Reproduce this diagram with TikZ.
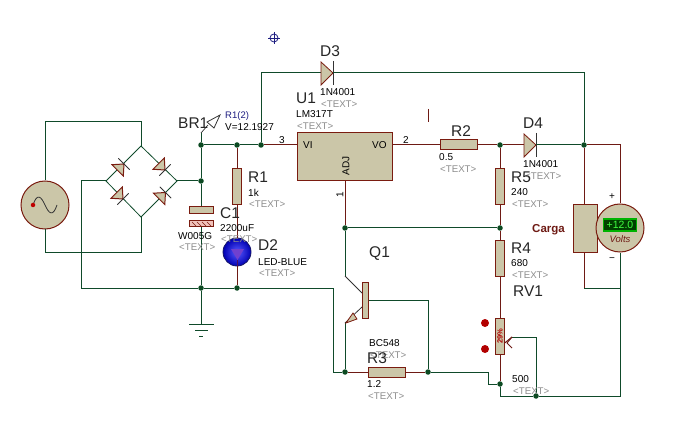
\documentclass[tikz,border=0pt]{standalone}
\usepackage{fontspec}
\setmainfont{Liberation Sans}
\definecolor{wirec}{HTML}{0F4A2A}
\definecolor{pinc}{HTML}{6E1A14}
\definecolor{bodyc}{HTML}{CBC6A8}
\definecolor{edgec}{HTML}{7A1C10}
\definecolor{dotc}{HTML}{0C4A22}
\definecolor{grayt}{HTML}{8C8C8C}
\definecolor{navyc}{HTML}{1C1C80}
\newcommand{\fpx}[1]{\fontsize{#1pt}{#1pt}\selectfont}
\tikzset{
  wire/.style={draw=wirec,line width=1pt},
  pin/.style={draw=pinc,line width=1pt},
  body/.style={draw=edgec,fill=bodyc,line width=1pt},
  res/.style={body,rectangle,inner sep=0pt,minimum width=37pt,minimum height=10pt},
  vres/.style={body,rectangle,inner sep=0pt,minimum width=9.5pt,minimum height=36pt},
  jdot/.style={circle,fill=dotc,inner sep=0pt,minimum size=5.5pt},
  big/.style={anchor=west,inner sep=0pt,font=\fpx{15.5},text=black!85},
  small/.style={anchor=west,inner sep=0pt,font=\fpx{10},text=black},
  ttxt/.style={anchor=west,inner sep=0pt,font=\fpx{9.7},text=grayt},
  brd/.pic={
    \draw[body] (0,0) -- (-9,-8) -- (-9,8) -- cycle;
    \draw[draw=black!80,line width=.8pt] (0,-8) -- (0,8);
  }
}
\begin{document}
\begin{tikzpicture}[x=1pt,y=-1pt]
\useasboundingbox (0,0) rectangle (698,430);
% junctions
\node[jdot] (j1) at (201,145) {};
\node[jdot] (j2) at (237,145) {};
\node[jdot] (j3) at (261,145) {};
\node[jdot] (j4) at (201,181) {};
\node[jdot] (j5) at (201,288) {};
\node[jdot] (j6) at (237,288) {};
\node[jdot] (j7) at (500,145) {};
\node[jdot] (j8) at (584,145) {};
\node[jdot] (j9) at (500,228) {};
\node[jdot] (j10) at (345,228) {};
\node[jdot] (j11) at (345,372) {};
\node[jdot] (j12) at (428,372) {};
\node[jdot] (j13) at (500,384) {};
\node[jdot] (j14) at (536,396) {};
% free coordinates
\coordinate (bt) at (141,146);
\coordinate (bl) at (106,181);
\coordinate (br) at (177,181);
\coordinate (bb) at (141,217);
\coordinate (d3a) at (321,73);
\coordinate (d3k) at (333,73);
\coordinate (d4a) at (524,145);
\coordinate (d4k) at (536,145);
\coordinate (qc) at (345,276);
\coordinate (qe) at (345,323);
\coordinate (qci) at (362,293);
\coordinate (qei) at (362,307);
\coordinate (gnd) at (201,324);
\coordinate (probe) at (201,133);
\coordinate (wip) at (512,337);
% components
\node[circle,body,inner sep=0pt,minimum size=48pt] (ac) at (45,205) {};
\node[vres] (r1) at (237,187) {};
\node[res] (r2) at (458.5,145) {};
\node[res] (r3) at (386.5,372) {};
\node[vres] (r5) at (500,187) {};
\node[vres] (r4) at (500,258.5) {};
\node[vres] (rv) at (500,336) {};
\node[rectangle,body,inner sep=0pt,minimum width=95pt,minimum height=48pt] (u1) at (344.5,157) {};
\node[rectangle,body,inner sep=0pt,minimum width=24pt,minimum height=47pt] (load) at (585,228.5) {};
\node[circle,body,inner sep=0pt,minimum size=48pt] (vm) at (620,228) {};
\node[rectangle,body,inner sep=0pt,minimum width=24pt,minimum height=7pt] (c1a) at (201,210.5) {};
\node[rectangle,draw=edgec,fill=bodyc!60!red!45!white,line width=1pt,inner sep=0pt,minimum width=24pt,minimum height=6pt] (c1b) at (201,224) {};
\node[rectangle,body,inner sep=0pt,minimum width=6.5pt,minimum height=36pt] (qb) at (365.5,300) {};
\node[circle,draw=navyc!80!black,line width=.8pt,inner sep=0pt,minimum size=28pt,shade,inner color=blue!65!white,outer color=blue!70!black] (led) at (237,252) {};
% AC wires
\draw[wire] (ac.north) -- (45,122) -| (bt);
\draw[wire] (ac.south) -- (45,252) -| (bb);
\draw[wire] (bl) -- (81,181) -- (81,288) -- (j5);
\draw[wire] (j5) -- (j6) -- (333,288) -- (333,372) -- (j11);
% bridge
\draw[wirec,line width=.8pt] (bt) -- (bl) -- (bb) -- (br) -- (bt);
\draw[wire] (br) -- (j4);
\pic[rotate=45] at (124,164) {brd};
\pic[rotate=-45] at (165,170) {brd};
\pic[rotate=-45] at (123,199) {brd};
\pic[rotate=45] at (165.5,192.5) {brd};
% left rail
\draw[wire] (j1) -- (j4) -- (c1a);
\draw[wire] (c1b) -- (j5) -- (gnd);
\draw[wire] (j1) -- (j2) -- (j3);
\draw[pin] (j3) -- (u1.west |- j3);
\draw[pin] (j2) -- (r1);
\draw[pin] (r1) -- (led);
\draw[pin] (led) -- (j6);
% ground
\draw[wirec,line width=1pt] (189,324) -- (214,324) (195,330) -- (208,330) (199,336) -- (203,336);
% C1 hatch
\foreach \hx in {192,197,202,207} \draw[edgec,line width=.6pt] (\hx,222) -- (\hx+4,226);
% LED triangle
\draw[fill=violet!50!blue!75!white,draw=none] (231,249) -- (244,249) -- (237.5,260) -- cycle;
\draw[pinc!70!blue,line width=.8pt] (237,260) -- (237,266);
% D3
\draw[wire] (j3) -- (261,73) -- (d3a);
\draw[body,line width=.8pt] (d3a) -- (321,62) -- (d3k) -- (321,85) -- cycle;
\draw[draw=black!80,line width=1pt] (333,61) -- (333,85);
\draw[wire] (d3k) -- (584,73) -- (j8);
% output
\draw[pin] (u1.east |- j7) -- (r2);
\draw[pin] (r2) -- (j7);
\draw[pin] (j7) -- (d4a);
\draw[body,line width=.8pt] (d4a) -- (524,134) -- (d4k) -- (524,157) -- cycle;
\draw[draw=black!80,line width=1pt] (536,133) -- (536,157);
\draw[wire] (d4k) -- (j8);
\draw[pin] (j8) -- (620,145) -- (vm.north);
\draw[pin] (j8) -- (load.north -| j8);
\draw[pin] (load.south -| j8) -- (584,288);
\draw[wire] (584,288) -- (620,288);
\draw[wire] (vm.south) -- (620,396) -- (j14);
% divider
\draw[pin] (j7) -- (r5);
\draw[pin] (r5) -- (j9);
\draw[pin] (j9) -- (r4);
\draw[pin] (r4) -- (rv);
\draw[pin] (rv) -- (j13);
\draw[wire] (j13) -- (500,396) -- (j14);
\draw[wire] (j12) -- (488,372) -- (488,384) -- (j13);
\draw[wire] (j10) -- (j9);
% wiper
\draw[wire] (j14) -- (536,337) -- (wip);
\draw[pin] (wip) -- (507,343) -- (512,348);
\draw[pin] (504.7,343) -- (wip);
% transistor
\draw[pin] (u1.south -| j10) -- (j10);
\draw[wire] (j10) -- (qc);
\draw[draw=black!80,line width=.8pt] (qc) -- (qci);
\draw[draw=black!80,line width=.8pt] (qei) -- (qe);
\draw[wire] (qe) -- (j11);
\draw[body,line width=.8pt] (346,323) -- (353,313) -- (357,319) -- cycle;
\draw[wire] (qb.east) -- (428,300) -- (j12);
\draw[pin] (j11) -- (r3);
\draw[pin] (r3) -- (j12);
% probe
\draw[wire] (j1) -- (probe);
\draw[draw=black!80,line width=.7pt] (probe) -- (208,125);
\draw[draw=black!80,line width=.8pt,fill=white] (207,122) -- (220,115) -- (214,128) -- cycle;
% marker
\node[circle,draw=navyc,line width=.8pt,inner sep=0pt,minimum size=8pt] (mk) at (274,38) {};
\draw[navyc,line width=.8pt] (268,38) -- (280,38) (274,32) -- (274,44);
% cursor
\coordinate (ca) at (428,109);
\coordinate (cb) at (428,122);
\draw[pinc,line width=.9pt] (ca) -- (cb);
% red probes
\node[circle,fill=red!70!black,inner sep=0pt,minimum size=8pt] (p1) at (485,323) {};
\node[circle,fill=red!70!black,inner sep=0pt,minimum size=8pt] (p2) at (485,349) {};
% AC symbol
\draw[black!80,line width=.8pt] (33,205) .. controls (37,193) and (41,196) .. (45,205) .. controls (49,214) and (53,217) .. (57,205);
\node[circle,fill=red!75!black,inner sep=0pt,minimum size=4.5pt] (acd) at (33,205) {};
% meter
\node[rectangle,draw=green!70!black,fill=green!25!black,line width=1.5pt,inner sep=0pt,minimum width=33pt,minimum height=12pt,font=\fpx{10.5},text=green!75!white] (disp) at (620,225) {+12.0};
\node[inner sep=0pt,font=\itshape\fpx{9.5},text=pinc] (volts) at (620,239) {Volts};
% texts
\node[big] (t1) at (178,123) {BR1};
\node[anchor=west,inner sep=0pt,font=\fpx{9.5},text=navyc] (t2) at (225,116) {R1(2)};
\node[small] (t3) at (225,127) {V=12.1927};
\node[small] (t4) at (178,236) {W005G};
\node[ttxt] (t5) at (179,247) {<TEXT>};
\node[big] (t6) at (220,213) {C1};
\node[small] (t7) at (220,228) {2200uF};
\node[ttxt] (t8) at (221,239) {<TEXT>};
\node[big] (t9) at (248,177) {R1};
\node[small] (t10) at (248,193) {1k};
\node[ttxt] (t11) at (249,204) {<TEXT>};
\node[big] (t12) at (258,245) {D2};
\node[small] (t13) at (258,262) {LED-BLUE};
\node[ttxt] (t14) at (259,273) {<TEXT>};
\node[big] (t15) at (296,98) {U1};
\node[small] (t16) at (296,114) {LM317T};
\node[ttxt] (t17) at (297,126) {<TEXT>};
\node[big] (t18) at (320,51) {D3};
\node[small] (t19) at (320,92) {1N4001};
\node[ttxt] (t20) at (321,104) {<TEXT>};
\node[big] (t21) at (451,131) {R2};
\node[small] (t22) at (439,157) {0.5};
\node[ttxt] (t23) at (440,169) {<TEXT>};
\node[big] (t24) at (523,123) {D4};
\node[small] (t25) at (523,164) {1N4001};
\node[ttxt] (t26) at (525,176) {<TEXT>};
\node[big] (t27) at (511,177) {R5};
\node[small] (t28) at (511,192) {240};
\node[ttxt] (t29) at (512,204) {<TEXT>};
\node[big] (t30) at (511,248) {R4};
\node[small] (t31) at (511,263) {680};
\node[ttxt] (t32) at (512,275) {<TEXT>};
\node[big] (t33) at (513,291) {RV1};
\node[big] (t34) at (369,254) {Q1};
\node[small] (t35) at (369,343) {BC548};
\node[ttxt] (t36) at (370,355) {<TEXT>};
\node[big] (t37) at (367,358) {R3};
\node[small] (t38) at (367,384) {1.2};
\node[ttxt] (t39) at (368,396) {<TEXT>};
\node[small] (t40) at (512,379) {500};
\node[ttxt] (t41) at (513,391) {<TEXT>};
\node[anchor=west,inner sep=0pt,font=\bfseries\fpx{11.5},text=pinc] (t42) at (532,230) {Carga};
\node[small] (t43) at (609,197) {+};
\node[small] (t44) at (609,260) {−};
\node[small] (t45) at (279,140) {3};
\node[small] (t46) at (403,140) {2};
\node[small,anchor=center,rotate=90] (t47) at (340,195) {1};
\node[small] (t48) at (303,145) {VI};
\node[small] (t49) at (372,145) {VO};
\node[small,anchor=center,rotate=90] (t50) at (346,166) {ADJ};
\node[anchor=center,inner sep=0pt,rotate=90,font=\bfseries\fpx{7.5},text=red!70!black] (t51) at (500,336) {29\%};
\end{tikzpicture}
\end{document}
